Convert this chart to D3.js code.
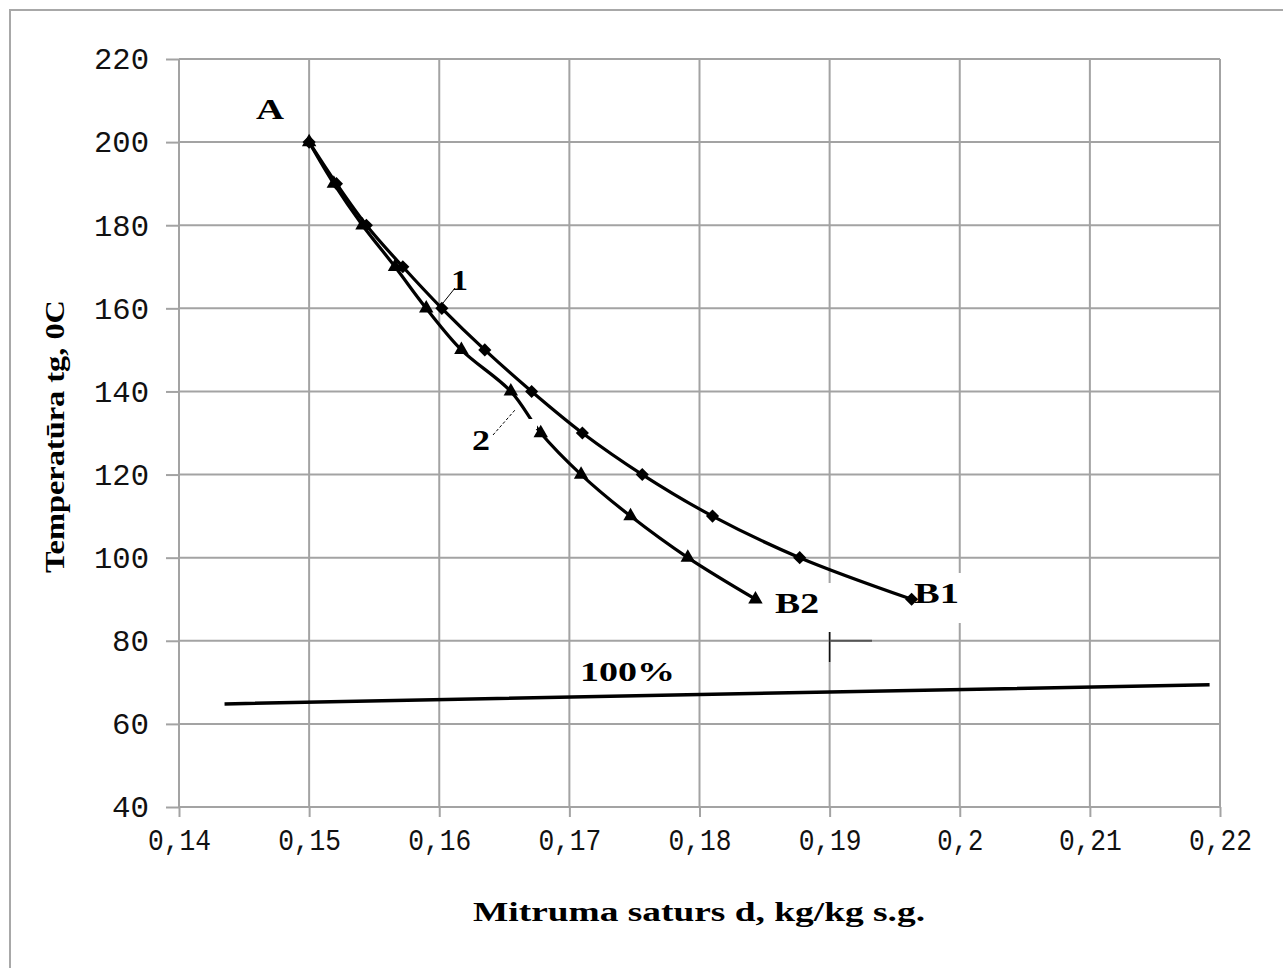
<!DOCTYPE html>
<html><head><meta charset="utf-8">
<script src="https://cdn.jsdelivr.net/npm/d3@7"></script>
<style>html,body{margin:0;padding:0;background:#fff;}svg{display:block;}</style>
</head><body>
<svg id="chart" width="1283" height="968"></svg>
<script>
// ---- data ----
const curve1X = [0.1500, 0.1521, 0.1544, 0.1572, 0.1602, 0.1635, 0.1671, 0.1710, 0.1756, 0.1810, 0.1877, 0.1963];
const curve1Y = [200, 190, 180, 170, 160, 150, 140, 130, 120, 110, 100, 90];
const curve2X = [0.1500, 0.1519, 0.1541, 0.1566, 0.1590, 0.1617, 0.1655, 0.1678, 0.1709, 0.1747, 0.1791, 0.1843];
const curve2Y = [200, 190, 180, 170, 160, 150, 140, 130, 120, 110, 100, 90];
const satX = [0.1435, 0.1900, 0.2192];
const satY = [64.8, 67.7, 69.4];
const xTicks = [0.14, 0.15, 0.16, 0.17, 0.18, 0.19, 0.20, 0.21, 0.22];
const xTickLabels = ["0,14", "0,15", "0,16", "0,17", "0,18", "0,19", "0,2", "0,21", "0,22"];
const yTicks = [40, 60, 80, 100, 120, 140, 160, 180, 200, 220];
const xTitle = "Mitruma saturs d, kg/kg s.g.";
const yTitle = "Temperatūra tg, 0C";

// ---- layout ----
const svg = d3.select("#chart");
const L = 179, R = 1220, T = 59, B = 807;
const x = d3.scaleLinear().domain([0.14, 0.22]).range([L, R]);
const y = d3.scaleLinear().domain([40, 220]).range([B, T]);
const grid = "#a3a3a3";
const tickFont = "Liberation Mono, Courier New, monospace";

// outer frame
svg.append("rect").attr("x", 10).attr("y", 10).attr("width", 1300).attr("height", 1000)
  .attr("fill", "#fff").attr("stroke", "#a8a8a8").attr("stroke-width", 2);

// gridlines
svg.append("g").selectAll("line").data(yTicks).join("line")
  .attr("x1", L).attr("x2", R).attr("y1", d => y(d)).attr("y2", d => y(d))
  .attr("stroke", grid).attr("stroke-width", 2);
svg.append("g").selectAll("line").data(xTicks).join("line")
  .attr("x1", d => x(d)).attr("x2", d => x(d)).attr("y1", T).attr("y2", B)
  .attr("stroke", grid).attr("stroke-width", 2);

// axes
const xAxis = d3.axisBottom(x).tickValues(xTicks).tickSize(10).tickFormat((d, i) => xTickLabels[i]);
const gx = svg.append("g").attr("transform", `translate(0,${B})`).call(xAxis);
gx.select(".domain").attr("stroke", grid).attr("stroke-width", 2).attr("d", `M${L},0H${R}`);
gx.selectAll(".tick line").attr("stroke", grid).attr("stroke-width", 2);
gx.selectAll(".tick text").attr("font-family", tickFont)
  .attr("font-size", 29).attr("fill", "#111").attr("y", 22).attr("dy", "0.71em")
  .attr("textLength", function () { return this.textContent.length === 4 ? 63 : 46; })
  .attr("lengthAdjust", "spacingAndGlyphs");

const yAxis = d3.axisLeft(y).tickValues(yTicks).tickSize(13).tickFormat(d3.format("d"));
const gy = svg.append("g").attr("transform", `translate(${L},0)`).call(yAxis);
gy.select(".domain").attr("stroke", grid).attr("stroke-width", 2).attr("d", `M0,${T}V${B}`);
gy.selectAll(".tick line").attr("stroke", grid).attr("stroke-width", 2);
gy.selectAll(".tick text").attr("font-family", tickFont)
  .attr("font-size", 29).attr("fill", "#111").attr("x", -30).attr("dy", "0.34em")
  .attr("textLength", function () { return this.textContent.length === 3 ? 55 : 37; })
  .attr("lengthAdjust", "spacingAndGlyphs");

// label background boxes (interrupting gridlines as in the reference)
const bg = svg.append("g");
bg.append("rect").attr("x", 770).attr("y", 583).attr("width", 64).attr("height", 49).attr("fill", "#fff");
bg.append("rect").attr("x", 912).attr("y", 573).attr("width", 54).attr("height", 50).attr("fill", "#fff");

// artifacts near 0.19 / 80
svg.append("line").attr("x1", x(0.19)).attr("x2", x(0.19)).attr("y1", 632).attr("y2", 662)
  .attr("stroke", "#111").attr("stroke-width", 1.5);
svg.append("line").attr("x1", x(0.19)).attr("x2", 872).attr("y1", y(80)).attr("y2", y(80))
  .attr("stroke", "#555").attr("stroke-width", 2);

// series
const line = d3.line().x(d => x(d[0])).y(d => y(d[1])).curve(d3.curveCatmullRom.alpha(0.5));
const c1 = curve1X.map((v, i) => [v, curve1Y[i]]);
const c2 = curve2X.map((v, i) => [v, curve2Y[i]]);
const sat = satX.map((v, i) => [v, satY[i]]);

svg.append("path").attr("d", line(c2)).attr("fill", "none").attr("stroke", "#000").attr("stroke-width", 3.2);
svg.append("path").attr("d", line(c1)).attr("fill", "none").attr("stroke", "#000").attr("stroke-width", 3.2);
svg.append("path").attr("d", d3.line().x(d => x(d[0])).y(d => y(d[1]))(sat))
  .attr("fill", "none").attr("stroke", "#000").attr("stroke-width", 3.5);

// gap in curve 2 near label "2"
svg.append("rect").attr("x", 527).attr("y", 419).attr("width", 10).attr("height", 10).attr("fill", "#fff");

// markers
svg.append("g").selectAll("path").data(c1).join("path")
  .attr("transform", d => `translate(${x(d[0])},${y(d[1])})`)
  .attr("d", d3.symbol().type(d3.symbolDiamond2).size(110)).attr("fill", "#000");
svg.append("g").selectAll("path").data(c2).join("path")
  .attr("transform", d => `translate(${x(d[0])},${y(d[1])})`)
  .attr("d", d3.symbol().type(d3.symbolTriangle).size(90)).attr("fill", "#000");

// annotations
const serif = "Liberation Serif, Times New Roman, serif";
function label(txt, px, py, size, len) {
  const t = svg.append("text").attr("x", px).attr("y", py).text(txt)
    .attr("font-family", serif).attr("font-weight", "bold").attr("font-size", size).attr("fill", "#000");
  if (len) t.attr("textLength", len).attr("lengthAdjust", "spacingAndGlyphs");
  return t;
}
label("A", 256, 119, 30, 28);
label("1", 451, 290, 30, 17);
label("2", 472, 450, 30, 18);
label("B2", 775, 613, 30, 44);
label("B1", 914, 603, 30, 45);
label("100%", 580, 681, 28, 95);

// leader lines
svg.append("line").attr("x1", 455).attr("y1", 288).attr("x2", 443).attr("y2", 303)
  .attr("stroke", "#000").attr("stroke-width", 1);
svg.append("line").attr("x1", 493).attr("y1", 435).attr("x2", 515).attr("y2", 410)
  .attr("stroke", "#000").attr("stroke-width", 1).attr("stroke-dasharray", "3,2");

// axis titles
label(xTitle, 473, 921, 28, 452);
svg.append("text").attr("transform", "translate(64,573) rotate(-90)").text(yTitle)
  .attr("font-family", serif).attr("font-weight", "bold").attr("font-size", 27).attr("fill", "#000")
  .attr("textLength", 273).attr("lengthAdjust", "spacingAndGlyphs");
</script>
</body></html>
